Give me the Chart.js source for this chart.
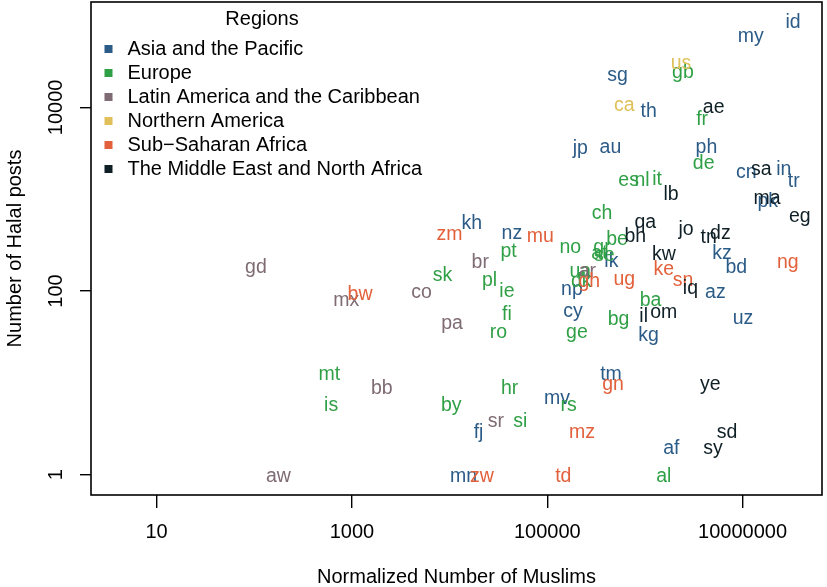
<!DOCTYPE html>
<html>
<head>
<meta charset="utf-8">
<script src="https://cdn.jsdelivr.net/npm/chart.js@4.4.1/dist/chart.umd.min.js"></script>
<style>
html,body{margin:0;padding:0;background:#fff;}
canvas{display:block;}
</style>
</head>
<body>
<canvas id="c" width="827" height="587"></canvas>
<script>
// ---- Data ----
const regionNames = ["Asia and the Pacific", "Europe", "Latin America and the Caribbean", "Northern America", "Sub\u2212Saharan Africa", "The Middle East and North Africa"];
const regionColors = ["#2b5b87", "#30a046", "#7e6b73", "#e0c05a", "#e2613b", "#0f1f26"];

const asiaCodes   = ["id","my","sg","th","jp","au","ph","cn","in","tr","pk","kh","nz","kz","lk","bd","np","az","cy","uz","kg","tm","mv","fj","af","mn"];
const asiaMuslims = [3.29e7,1.21e7,525000,1.09e6,218000,443000,4.26e6,1.09e7,2.64e7,3.34e7,1.81e7,16900,43400,6.17e6,453000,8.63e6,179000,5.26e6,183000,1.01e7,1.09e6,449000,126000,19800,1.86e6,13900];
const asiaPosts   = [88500,61900,23400,9370,3750,3850,3820,2060,2190,1635,993,563,439,267,222,191,110,101,63,52,34,13,7,3,2,1];

const euroCodes   = ["gb","fr","de","es","nl","it","ch","be","no","pt","gr","at","se","ua","dk","sk","pl","ie","ba","fi","bg","ro","ge","mt","is","by","hr","rs","si","al"];
const euroMuslims = [2.45e6,3.85e6,3.99e6,681000,933000,1.33e6,363000,518000,172000,40100,363000,341000,384000,218000,223000,8450,25600,38600,1.14e6,38600,537000,31700,201000,588,612,10400,41100,165000,52800,1.56e6];
const euroPosts   = [25400,7810,2580,1663,1676,1718,741,382,310,285,310,271,258,169,132,153,135,104,82,58,51,37,37,13,6,6,9,6,4,1];

const latCodes    = ["gd","br","mx","co","pa","bb","sr","aw","ar"];
const latMuslims  = [104,20600,873,5150,10600,2020,29800,177,257000];
const latPosts    = [191,213,82,101,46,9,4,1,173];

const naCodes     = ["us","ca"];
const naMuslims   = [2.34e6,615000];
const naPosts     = [31300,10900];

const ssaCodes    = ["zm","mu","ng","ke","ug","sn","bw","gn","mz","zw","td","gh"];
const ssaMuslims  = [9980,84700,2.90e7,1.56e6,615000,2.45e6,1210,471000,227000,21400,146000,269000];
const ssaPosts    = [433,415,213,178,141,137,97,10,3,1,1,132];

const meCodes     = ["ae","sa","lb","ma","eg","qa","jo","bh","tn","dz","kw","iq","om","il","ye","sd","sy"];
const meMuslims   = [5.06e6,1.55e7,1.85e6,1.78e7,3.85e7,1.01e6,2.64e6,798000,4.50e6,5.92e6,1.56e6,2.92e6,1.56e6,971000,4.68e6,6.93e6,4.99e6];
const mePosts     = [10400,2190,1173,1062,683,578,490,415,397,439,263,112,61,55,10,3,2];

const xTicks = [10, 1000, 100000, 10000000];
const xTickLabels = ["10", "1000", "100000", "10000000"];
const yTicks = [1, 100, 10000];
const yTickLabels = ["1", "100", "10000"];

const groups = [
  [asiaCodes, asiaMuslims, asiaPosts],
  [euroCodes, euroMuslims, euroPosts],
  [latCodes, latMuslims, latPosts],
  [naCodes, naMuslims, naPosts],
  [ssaCodes, ssaMuslims, ssaPosts],
  [meCodes, meMuslims, mePosts]
];

const FONT = "'Liberation Sans', Arial, Helvetica, sans-serif";

const datasets = groups.map((g, k) => ({
  label: regionNames[k],
  data: g[0].map((c, i) => ({x: g[1][i], y: g[2][i], code: c})),
  pointRadius: 0,
  pointHoverRadius: 0,
  backgroundColor: regionColors[k],
  borderColor: regionColors[k]
}));

const textPlugin = {
  id: 'textLabels',
  afterDatasetsDraw(chart) {
    const ctx = chart.ctx;
    ctx.save();
    ctx.font = "19.5px " + FONT;
    ctx.textAlign = 'center';
    ctx.textBaseline = 'middle';
    chart.data.datasets.forEach((ds, k) => {
      const meta = chart.getDatasetMeta(k);
      ctx.fillStyle = ds.borderColor;
      meta.data.forEach((el, i) => {
        ctx.fillText(ds.data[i].code, el.x, el.y + 2);
      });
    });
    ctx.restore();
  },
  afterDraw(chart) {
    const ctx = chart.ctx;
    const a = chart.chartArea;
    ctx.save();
    // box
    ctx.strokeStyle = '#000';
    ctx.lineWidth = 1.6;
    ctx.strokeRect(a.left, a.top, a.right - a.left, a.bottom - a.top);
    // y tick labels (rotated)
    const ys = chart.scales.y;
    ctx.fillStyle = '#000';
    ctx.font = "20px " + FONT;
    ctx.textAlign = 'center';
    ctx.textBaseline = 'middle';
    yTicks.forEach((v, i) => {
      const py = ys.getPixelForValue(v);
      ctx.save();
      ctx.translate(56, py);
      ctx.rotate(-Math.PI / 2);
      ctx.fillText(yTickLabels[i], 0, 0);
      ctx.restore();
    });
    // legend
    ctx.font = "20px " + FONT;
    ctx.textAlign = 'center';
    ctx.fillStyle = '#000';
    ctx.fillText("Regions", 262, 19.5);
    ctx.textAlign = 'left';
    chart.data.datasets.forEach((ds, k) => {
      const yy = 49.5 + k * 24;
      ctx.fillStyle = ds.borderColor;
      ctx.fillRect(104.5, yy - 4.5, 8, 8);
      ctx.fillStyle = '#000';
      ctx.fillText(ds.label, 127.5, yy);
    });
    ctx.restore();
  }
};

new Chart(document.getElementById('c'), {
  type: 'scatter',
  data: { datasets },
  plugins: [textPlugin],
  options: {
    responsive: false,
    animation: false,
    events: [],
    layout: { padding: { left: 0, right: 5, top: 2, bottom: 0 } },
    plugins: { legend: { display: false }, tooltip: { enabled: false } },
    scales: {
      x: {
        type: 'logarithmic',
        position: 'bottom',
        min: 2.13,
        max: 6.5e7,
        afterBuildTicks: s => { s.ticks = xTicks.map(v => ({ value: v })); },
        afterFit: s => { s.height = 92; },
        ticks: {
          autoSkip: false, maxRotation: 0, minRotation: 0,
          padding: 12,
          color: '#000',
          font: { family: FONT, size: 20 },
          callback: (v, i) => xTickLabels[i]
        },
        grid: { drawOnChartArea: false, drawTicks: true, tickLength: 13, color: '#000', lineWidth: 1.4 },
        border: { display: false },
        title: {
          display: true, text: 'Normalized Number of Muslims', color: '#000',
          font: { family: FONT, size: 20, lineHeight: 1 },
          padding: { top: 0, bottom: 0 }
        }
      },
      y: {
        type: 'logarithmic',
        position: 'left',
        min: Math.pow(10, -0.198),
        max: Math.pow(10, 5.148),
        afterBuildTicks: s => { s.ticks = yTicks.map(v => ({ value: v })); },
        afterFit: s => { s.width = 91; },
        ticks: { display: false },
        grid: { drawOnChartArea: false, drawTicks: true, tickLength: 11, color: '#000', lineWidth: 1.4 },
        border: { display: false },
        title: {
          display: true, text: 'Number of Halal posts', color: '#000',
          font: { family: FONT, size: 20, lineHeight: 1 },
          padding: { top: 5, bottom: 0 }
        }
      }
    }
  }
});
</script>
</body>
</html>
